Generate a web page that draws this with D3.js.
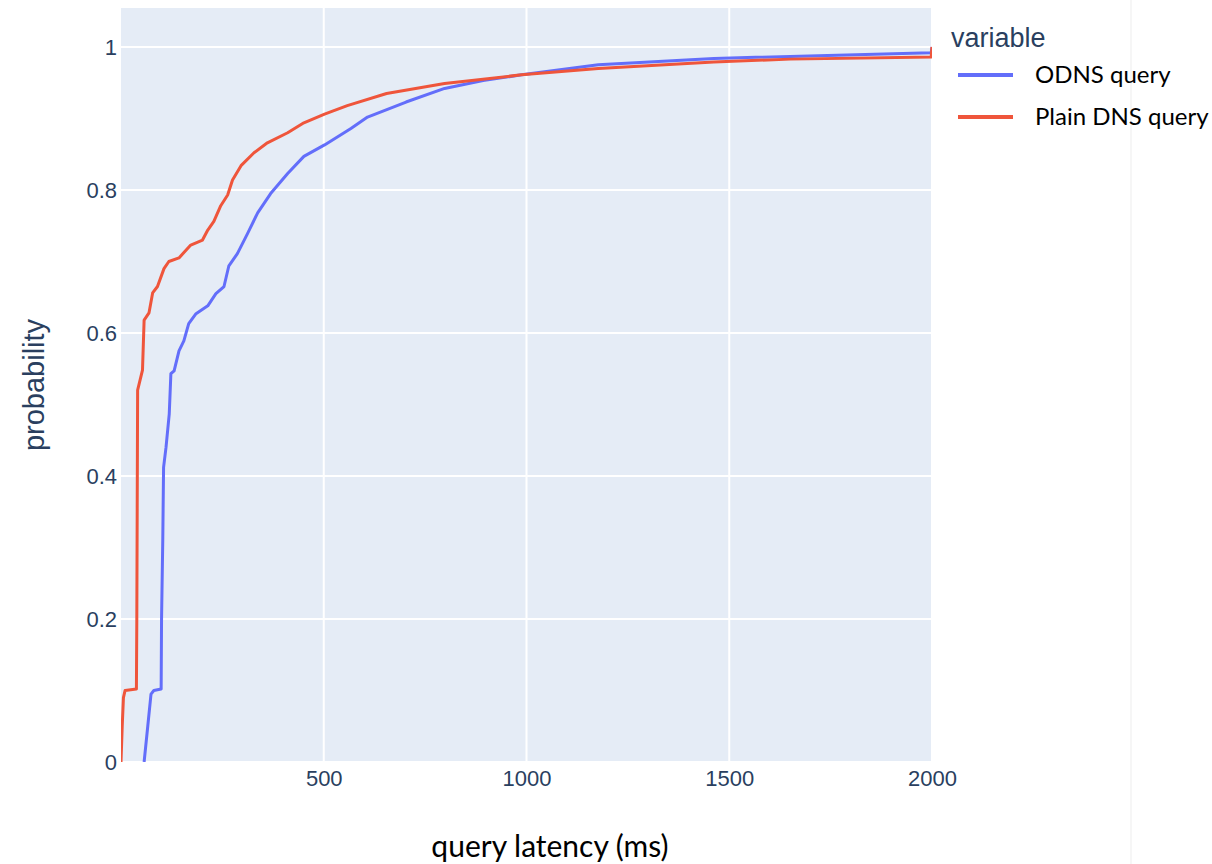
<!DOCTYPE html>
<html>
<head>
<meta charset="utf-8">
<script src="https://cdn.jsdelivr.net/npm/d3@7"></script>
<style>
  html, body { margin: 0; padding: 0; background: #ffffff; }
  svg { display: block; }
</style>
</head>
<body>
<div id="chart"></div>
<script>
// ---- data ----
const seriesNames = ["ODNS query", "Plain DNS query"];
const seriesColors = ["#636efa", "#ef553b"];

const odnsLatency = [57, 66, 74, 81, 99, 100, 103, 105, 111, 119, 123, 131, 143, 155, 167, 185, 214, 234, 254, 266, 287, 312, 337, 369, 411, 451, 502, 567, 608, 703, 798, 893, 988, 1177, 1462, 1998, 2000];
const odnsProb    = [0, 0.05, 0.095, 0.1, 0.102, 0.2, 0.31, 0.412, 0.44, 0.487, 0.543, 0.547, 0.575, 0.589, 0.613, 0.627, 0.638, 0.655, 0.665, 0.694, 0.711, 0.739, 0.768, 0.795, 0.823, 0.847, 0.863, 0.886, 0.902, 0.923, 0.942, 0.953, 0.961, 0.975, 0.984, 0.992, 1.0];

const plainLatency = [0, 3, 6, 10, 38, 39, 41, 47, 53, 57, 69, 78, 90, 106, 118, 143, 172, 201, 214, 229, 246, 263, 275, 296, 328, 361, 411, 451, 502, 558, 655, 798, 988, 1177, 1462, 1650, 1998, 2000];
const plainProb    = [0, 0.05, 0.09, 0.1, 0.102, 0.2, 0.52, 0.534, 0.548, 0.618, 0.628, 0.656, 0.665, 0.69, 0.70, 0.705, 0.723, 0.730, 0.744, 0.756, 0.778, 0.793, 0.814, 0.834, 0.852, 0.866, 0.880, 0.894, 0.906, 0.918, 0.935, 0.949, 0.961, 0.970, 0.979, 0.983, 0.986, 1.0];

const xTicks = [500, 1000, 1500, 2000];
const yTicks = [0, 0.2, 0.4, 0.6, 0.8, 1];
const yTickLabels = ["0", "0.2", "0.4", "0.6", "0.8", "1"];

const xTitle = "query latency (ms)";
const yTitle = "probability";
const legendTitle = "variable";

// ---- layout ----
const W = 1212, H = 864;
const plot = { left: 121, top: 8, right: 932, bottom: 762 };

const svg = d3.select("#chart").append("svg")
  .attr("width", W).attr("height", H);

const x = d3.scaleLinear().domain([0, 2000]).range([plot.left, plot.right]);
const y = d3.scaleLinear().domain([0, 1.0545]).range([plot.bottom, plot.top]);

// faint separator line at right
svg.append("line")
  .attr("x1", 1131).attr("x2", 1131).attr("y1", 0).attr("y2", H)
  .attr("stroke", "#f3f3f3").attr("stroke-width", 1.5);

// plot background
svg.append("rect")
  .attr("x", plot.left).attr("y", plot.top)
  .attr("width", plot.right - plot.left).attr("height", plot.bottom - plot.top)
  .attr("fill", "#e5ecf6");

// grid
const grid = svg.append("g");
grid.selectAll("line.gx").data(xTicks).join("line")
  .attr("x1", d => x(d)).attr("x2", d => x(d))
  .attr("y1", plot.top).attr("y2", plot.bottom)
  .attr("stroke", "#ffffff").attr("stroke-width", 2);
grid.selectAll("line.gy").data(yTicks).join("line")
  .attr("x1", plot.left).attr("x2", plot.right)
  .attr("y1", d => y(d)).attr("y2", d => y(d))
  .attr("stroke", "#ffffff").attr("stroke-width", 2);

// axes via d3 axis generators
const tickFont = "'Liberation Sans', Arial, sans-serif";
const xAxis = d3.axisBottom(x).tickValues(xTicks).tickSize(0).tickPadding(8).tickFormat(d3.format("d"));
const gx = svg.append("g").attr("transform", `translate(0,${plot.bottom})`).call(xAxis);
gx.select(".domain").remove();
gx.selectAll("text").attr("font-family", tickFont).attr("font-size", 22).attr("fill", "#2a3f5f");

const yAxis = d3.axisLeft(y).tickValues(yTicks).tickSize(0).tickPadding(4)
  .tickFormat((d, i) => yTickLabels[i]);
const gy = svg.append("g").attr("transform", `translate(${plot.left},0)`).call(yAxis);
gy.select(".domain").remove();
gy.selectAll("text").attr("font-family", tickFont).attr("font-size", 22).attr("fill", "#2a3f5f");

// clip
svg.append("clipPath").attr("id", "clip").append("rect")
  .attr("x", plot.left).attr("y", plot.top)
  .attr("width", plot.right - plot.left).attr("height", plot.bottom - plot.top);

const line = d3.line().x(d => x(d[0])).y(d => y(d[1]));
const series = [
  d3.zip(odnsLatency, odnsProb),
  d3.zip(plainLatency, plainProb)
];
svg.append("g").attr("clip-path", "url(#clip)")
  .selectAll("path").data(series).join("path")
  .attr("d", line)
  .attr("fill", "none")
  .attr("stroke", (d, i) => seriesColors[i])
  .attr("stroke-width", 3)
  .attr("stroke-linejoin", "round");

// axis titles
svg.append("text")
  .attr("x", 550).attr("y", 857)
  .attr("text-anchor", "middle")
  .attr("font-family", "Lato, 'Open Sans', sans-serif")
  .attr("font-size", 30)
  .attr("fill", "#000000")
  .text(xTitle);

svg.append("text")
  .attr("transform", "translate(44,385) rotate(-90)")
  .attr("text-anchor", "middle")
  .attr("font-family", tickFont)
  .attr("font-size", 29)
  .attr("fill", "#2a3f5f")
  .text(yTitle);

// legend
const lg = svg.append("g");
lg.append("text")
  .attr("x", 951).attr("y", 47)
  .attr("font-family", tickFont)
  .attr("font-size", 27)
  .attr("fill", "#2a3f5f")
  .text(legendTitle);

const legendY = [75, 117];
seriesNames.forEach((name, i) => {
  lg.append("line")
    .attr("x1", 958).attr("x2", 1013)
    .attr("y1", legendY[i]).attr("y2", legendY[i])
    .attr("stroke", seriesColors[i]).attr("stroke-width", 4);
  lg.append("text")
    .attr("x", 1035).attr("y", legendY[i])
    .attr("dy", "0.35em")
    .attr("font-family", "Lato, 'Open Sans', sans-serif")
    .attr("font-size", 24)
    .attr("fill", "#000000")
    .text(name);
});
</script>
</body>
</html>
